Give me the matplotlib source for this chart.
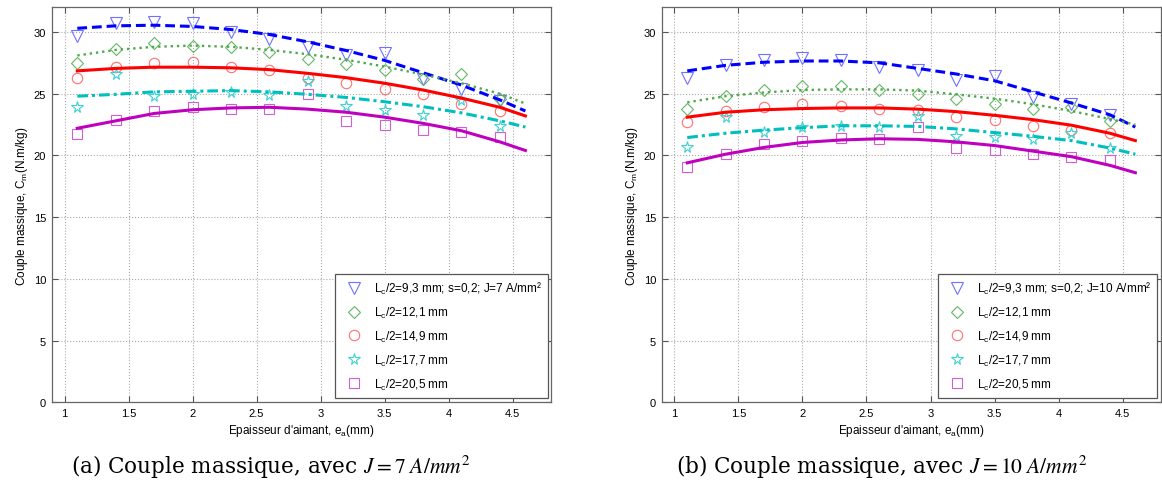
import numpy as np
import matplotlib
matplotlib.use("Agg")
import matplotlib.pyplot as plt

plt.rcParams['font.family'] = ['Liberation Sans', 'DejaVu Sans']
plt.rcParams['mathtext.fontset'] = 'custom'
plt.rcParams['mathtext.rm'] = 'Liberation Sans'
plt.rcParams['mathtext.it'] = 'Liberation Sans:italic'

# magnet thickness (mm) for the simulated points and for the fitted curves
ea_pts = [1.1, 1.4, 1.7, 2.0, 2.3, 2.6, 2.9, 3.2, 3.5, 3.8, 4.1, 4.4]
ea_fit = [1.1, 1.4, 1.7, 2.0, 2.3, 2.6, 2.9, 3.2, 3.5, 3.8, 4.1, 4.4, 4.6]

lc_labels = ['9,3', '12,1', '14,9', '17,7', '20,5']

# J = 7 A/mm2
pts_j7 = [
    [29.7, 30.7, 30.8, 30.7, 30.0, 29.4, 28.8, 28.1, 28.3, 26.2, 25.4, 24.4],
    [27.5, 28.6, 29.1, 28.9, 28.8, 28.4, 27.8, 27.4, 26.9, 26.2, 26.6, 24.6],
    [26.3, 27.2, 27.5, 27.6, 27.2, 26.9, 26.3, 25.9, 25.4, 25.0, 24.2, 23.6],
    [23.9, 26.6, 24.8, 25.0, 25.1, 24.9, 26.0, 24.0, 23.7, 23.3, 24.5, 22.4],
    [21.7, 22.9, 23.6, 23.9, 23.8, 23.8, 25.0, 22.8, 22.5, 22.1, 21.9, 21.5],
]
fit_j7 = [
    [30.3, 30.5, 30.55, 30.45, 30.2, 29.8, 29.2, 28.5, 27.7, 26.7, 25.7, 24.5, 23.6],
    [28.1, 28.55, 28.8, 28.9, 28.8, 28.55, 28.2, 27.75, 27.2, 26.55, 25.85, 25.0, 24.2],
    [26.85, 27.05, 27.15, 27.15, 27.1, 26.95, 26.65, 26.3, 25.85, 25.3, 24.65, 23.9, 23.2],
    [24.8, 24.95, 25.15, 25.2, 25.25, 25.15, 24.95, 24.7, 24.35, 23.95, 23.45, 22.8, 22.3],
    [22.2, 22.8, 23.4, 23.7, 23.85, 23.9, 23.75, 23.5, 23.1, 22.6, 22.0, 21.1, 20.4],
]

# J = 10 A/mm2
pts_j10 = [
    [26.3, 27.3, 27.7, 27.9, 27.7, 27.2, 26.9, 26.1, 26.4, 24.7, 24.2, 23.3],
    [23.8, 24.8, 25.3, 25.6, 25.6, 25.3, 25.0, 24.6, 24.2, 23.8, 23.9, 22.8],
    [22.7, 23.6, 23.9, 24.2, 24.0, 23.8, 23.7, 23.1, 22.9, 22.4, 22.1, 21.8],
    [20.7, 23.1, 21.9, 22.3, 22.4, 22.3, 23.2, 21.6, 21.5, 21.3, 21.8, 20.6],
    [19.1, 20.1, 20.9, 21.2, 21.4, 21.3, 22.3, 20.6, 20.4, 20.1, 19.9, 19.6],
]
fit_j10 = [
    [26.85, 27.3, 27.55, 27.65, 27.65, 27.5, 27.05, 26.6, 26.05, 25.15, 24.25, 23.3, 22.3],
    [24.3, 24.8, 25.1, 25.3, 25.35, 25.35, 25.25, 24.95, 24.6, 24.15, 23.6, 22.95, 22.5],
    [23.1, 23.5, 23.7, 23.8, 23.85, 23.85, 23.75, 23.55, 23.25, 22.9, 22.45, 21.8, 21.2],
    [21.45, 21.8, 22.05, 22.25, 22.4, 22.4, 22.35, 22.15, 21.85, 21.55, 21.2, 20.6, 20.1],
    [19.4, 20.1, 20.65, 21.05, 21.25, 21.35, 21.3, 21.1, 20.8, 20.35, 19.9, 19.2, 18.6],
]

mk_colors = ['#7070ff', '#62b862', '#ff7070', '#40d0d0', '#d060d0']
ln_colors = ['#0000ff', '#4fa84f', '#ff0000', '#00bfbf', '#bf00bf']
markers = ['v', 'D', 'o', '*', 's']
msizes = [8, 6.5, 7.5, 8.5, 7]
ln_styles = [dict(linestyle='--', dashes=(3.2, 1.6), lw=2.2),
             dict(linestyle=':', lw=1.7),
             dict(linestyle='-', lw=2.2),
             dict(linestyle='-.', dashes=(3.5, 1.3, 1.0, 1.3), lw=2.2),
             dict(linestyle='-', lw=2.2)]

fig = plt.figure(figsize=(11.62, 4.89), dpi=100)
ax1 = fig.add_axes([0.0445, 0.1753, 0.4297, 0.8077])
ax2 = fig.add_axes([0.5694, 0.1753, 0.4297, 0.8077])


def draw_panel(ax, pts, fits, jval):
    handles = []
    for i in range(5):
        lab = 'L$_\\mathrm{c}$/2=' + lc_labels[i] + ' mm'
        if i == 0:
            lab += '; s=0,2; J=' + jval + ' A/mm²'
        h, = ax.plot(ea_pts, pts[i], linestyle='none', marker=markers[i],
                     markersize=msizes[i], markerfacecolor='none',
                     markeredgecolor=mk_colors[i], markeredgewidth=0.8,
                     label=lab, zorder=3)
        handles.append(h)
    for i in range(5):
        ax.plot(ea_fit, fits[i], color=ln_colors[i], zorder=4, **ln_styles[i])

    ax.set_xlim(0.9, 4.8)
    ax.set_ylim(0, 32)
    ax.set_xticks([1, 1.5, 2, 2.5, 3, 3.5, 4, 4.5])
    ax.set_xticklabels(['1', '1.5', '2', '2.5', '3', '3.5', '4', '4.5'])
    ax.set_yticks([0, 5, 10, 15, 20, 25, 30])
    ax.grid(True, linestyle=':', color='#a8a8a8', lw=0.8)
    ax.tick_params(direction='in', top=True, right=True, length=4,
                   labelsize=8, color='#555555', pad=4)
    for sp in ax.spines.values():
        sp.set_color('#666666')
        sp.set_linewidth(0.9)
    ax.set_xlabel("Epaisseur d'aimant, e$_\\mathrm{a}$(mm)", fontsize=8.5, labelpad=3)
    ax.set_ylabel('Couple massique, C$_\\mathrm{m}$(N.m/kg)', fontsize=8.5, labelpad=3)

    leg = ax.legend(handles=handles, loc='lower right',
                    bbox_to_anchor=(0.993, 0.012), fontsize=8.5,
                    frameon=True, fancybox=False, framealpha=1,
                    edgecolor='#555555', handlelength=2.2, handletextpad=0.6,
                    labelspacing=0.75, borderpad=0.5, borderaxespad=0)
    leg.get_frame().set_linewidth(0.9)
    leg.set_zorder(5)


draw_panel(ax1, pts_j7, fit_j7, '7')
draw_panel(ax2, pts_j10, fit_j10, '10')

fig.text(0.233, 0.045, '(a) Couple massique, avec $J = 7\\ A/mm^2$',
         ha='center', va='center', fontsize=15.5, family='DejaVu Serif',
         math_fontfamily='stix')
fig.text(0.759, 0.045, '(b) Couple massique, avec $J = 10\\ A/mm^2$',
         ha='center', va='center', fontsize=15.5, family='DejaVu Serif',
         math_fontfamily='stix')

fig.savefig('out.png', dpi=100)
